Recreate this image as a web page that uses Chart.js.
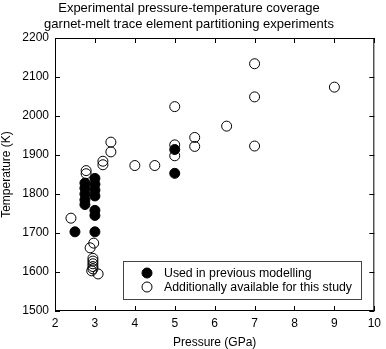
<!DOCTYPE html>
<html>
<head>
<meta charset="utf-8">
<script src="https://cdn.jsdelivr.net/npm/chart.js@4/dist/chart.umd.min.js"></script>
<style>
  html, body { margin: 0; padding: 0; background: #fff; }
  #wrap { width: 386px; height: 349px; }
</style>
</head>
<body>
<div id="wrap"><canvas id="chart" width="386" height="349"></canvas></div>
<script>
const titleLines = [
  "Experimental pressure-temperature coverage",
  "garnet-melt trace element partitioning experiments",
];
const seriesNames = ["Used in previous modelling", "Additionally available for this study"];

// pressure (GPa) / temperature (K)
const usedPressure = [2.5, 2.75, 2.75, 2.75, 2.75, 2.75, 3, 3, 3, 3, 3, 3, 3, 5, 5];
const usedTemp = [1703, 1828, 1815, 1800, 1785, 1773, 1840, 1825, 1810, 1795, 1758, 1745, 1703, 1914, 1853];

const extraPressure = [
  2.4, 2.78, 2.78, 2.88, 2.97, 2.95, 2.95, 2.95, 2.95, 2.95, 2.92, 3.08,
  3.2, 3.2, 3.4, 3.4, 4, 4.5, 5, 5, 5, 5.5, 5.5, 6.3, 7, 7, 7, 9,
];
const extraTemp = [
  1738, 1860, 1852, 1662, 1674, 1635, 1628, 1621, 1614, 1608, 1603, 1595,
  1884, 1875, 1933, 1908, 1873, 1873, 2024, 1926, 1898, 1945, 1922, 1974, 2134, 2049, 1923, 2074,
];

const font = "'Liberation Sans', Arial, Helvetica, sans-serif";

const toPoints = (xs, ys) => xs.map((x, i) => ({ x, y: ys[i] }));

// frame, inward ticks on all four sides, and the boxed legend
const framePlugin = {
  id: "frame",
  afterDatasetsDraw(chart) {
    const { ctx, chartArea: a, scales } = chart;
    const len = 5;
    ctx.save();
    ctx.strokeStyle = "#000";
    ctx.lineWidth = 1;
    ctx.strokeRect(a.left + 0.5, a.top + 0.5, a.right - a.left - 1, a.bottom - a.top - 1);
    ctx.beginPath();
    for (const t of scales.x.ticks) {
      const px = Math.round(scales.x.getPixelForValue(t.value)) + 0.5;
      ctx.moveTo(px, a.bottom);
      ctx.lineTo(px, a.bottom - len);
      ctx.moveTo(px, a.top);
      ctx.lineTo(px, a.top + len);
    }
    for (const t of scales.y.ticks) {
      const py = Math.round(scales.y.getPixelForValue(t.value)) + 0.5;
      ctx.moveTo(a.left, py);
      ctx.lineTo(a.left + len, py);
      ctx.moveTo(a.right, py);
      ctx.lineTo(a.right - len, py);
    }
    ctx.stroke();

    // legend box in lower right of plot
    const bx = 123.5, by = 261.5, bw = 238, bh = 38;
    ctx.fillStyle = "#fff";
    ctx.fillRect(bx, by, bw, bh);
    ctx.strokeStyle = "#444";
    ctx.strokeRect(bx, by, bw, bh);
    chart.data.datasets.forEach((ds, i) => {
      const cy = 273 + i * 14;
      ctx.beginPath();
      ctx.arc(147, cy, 5, 0, Math.PI * 2);
      if (ds.backgroundColor !== "rgba(0,0,0,0)") {
        ctx.fillStyle = "#000";
        ctx.fill();
      }
      ctx.strokeStyle = "#000";
      ctx.stroke();
      ctx.fillStyle = "#000";
      ctx.font = "12.3px " + font;
      ctx.textBaseline = "middle";
      ctx.textAlign = "left";
      ctx.fillText(ds.label, 164, cy + 0.5);
    });
    ctx.restore();
  },
};

new Chart(document.getElementById("chart"), {
  type: "scatter",
  plugins: [framePlugin],
  data: {
    datasets: [
      {
        label: seriesNames[0],
        data: toPoints(usedPressure, usedTemp),
        pointRadius: 5,
        pointBackgroundColor: "#000",
        pointBorderColor: "#000",
        borderWidth: 1,
        backgroundColor: "#000",
      },
      {
        label: seriesNames[1],
        data: toPoints(extraPressure, extraTemp),
        pointRadius: 5,
        pointBackgroundColor: "rgba(0,0,0,0)",
        pointBorderColor: "#000",
        borderWidth: 1,
        backgroundColor: "rgba(0,0,0,0)",
      },
    ],
  },
  options: {
    responsive: false,
    animation: false,
    layout: { padding: { left: 0, right: 8, top: 0, bottom: 0 } },
    plugins: {
      legend: { display: false },
      tooltip: { enabled: false },
      title: {
        display: true,
        text: titleLines,
        color: "#000",
        font: { family: font, size: 13, weight: "normal", lineHeight: 16 / 13 },
        padding: { top: 0.5, bottom: 5.5 },
      },
    },
    scales: {
      x: {
        type: "linear",
        min: 2,
        max: 10,
        ticks: { stepSize: 1, color: "#000", padding: 5, font: { family: font, size: 12 } },
        grid: { display: false, drawTicks: false },
        border: { display: false },
        title: {
          display: true,
          text: "Pressure (GPa)",
          color: "#000",
          font: { family: font, size: 12, lineHeight: 1 },
          padding: { top: 0, bottom: 0 },
        },
        afterFit: (s) => { s.height = 38; },
      },
      y: {
        min: 1500,
        max: 2200,
        ticks: {
          stepSize: 100,
          color: "#000",
          padding: 6,
          font: { family: font, size: 12 },
          callback: (v) => String(v),
        },
        grid: { display: false, drawTicks: false },
        border: { display: false },
        title: {
          display: true,
          text: "Temperature (K)",
          color: "#000",
          font: { family: font, size: 12, lineHeight: 1 },
          padding: { top: 1, bottom: 0 },
        },
        afterFit: (s) => { s.width = 55; },
      },
    },
  },
});
</script>
</body>
</html>
